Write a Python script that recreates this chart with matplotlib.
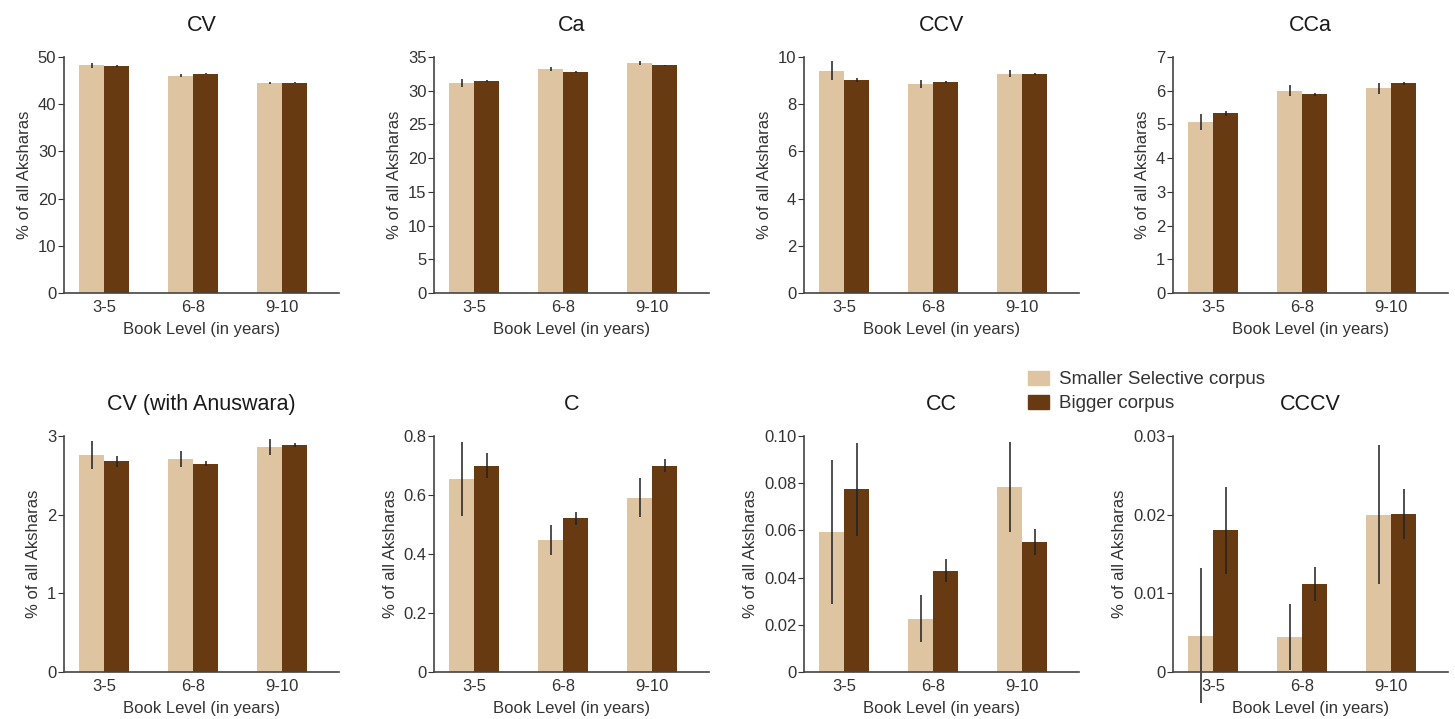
import numpy as np
import matplotlib.pyplot as plt
from matplotlib.patches import Patch

plt.rcParams['font.family'] = ['Liberation Sans', 'DejaVu Sans']

levels = ['3-5', '6-8', '9-10']
panels = ['CV', 'Ca', 'CCV', 'CCa', 'CV (with Anuswara)', 'C', 'CC', 'CCCV']

# mean % of all aksharas per book level (smaller selective / bigger corpus)
small_mean = {
    'CV': [48.2, 46.0, 44.5],
    'Ca': [31.1, 33.2, 34.05],
    'CCV': [9.42, 8.86, 9.29],
    'CCa': [5.07, 6.0, 6.07],
    'CV (with Anuswara)': [2.76, 2.71, 2.86],
    'C': [0.655, 0.448, 0.59],
    'CC': [0.0593, 0.0226, 0.0785],
    'CCCV': [0.0046, 0.0045, 0.0200],
}
big_mean = {
    'CV': [48.0, 46.5, 44.5],
    'Ca': [31.4, 32.8, 33.75],
    'CCV': [9.03, 8.94, 9.29],
    'CCa': [5.33, 5.89, 6.22],
    'CV (with Anuswara)': [2.68, 2.65, 2.885],
    'C': [0.70, 0.522, 0.70],
    'CC': [0.0774, 0.043, 0.0549],
    'CCCV': [0.018, 0.0112, 0.0201],
}
small_err = {
    'CV': [0.6, 0.3, 0.3],
    'Ca': [0.6, 0.3, 0.3],
    'CCV': [0.39, 0.17, 0.15],
    'CCa': [0.25, 0.17, 0.17],
    'CV (with Anuswara)': [0.18, 0.1, 0.1],
    'C': [0.126, 0.05, 0.066],
    'CC': [0.0305, 0.0099, 0.0191],
    'CCCV': [0.0086, 0.0042, 0.0088],
}
big_err = {
    'CV': [0.2, 0.1, 0.1],
    'Ca': [0.15, 0.1, 0.1],
    'CCV': [0.1, 0.05, 0.05],
    'CCa': [0.07, 0.05, 0.05],
    'CV (with Anuswara)': [0.07, 0.03, 0.03],
    'C': [0.042, 0.022, 0.022],
    'CC': [0.0198, 0.0049, 0.0055],
    'CCCV': [0.0055, 0.0022, 0.0032],
}
y_ticks = {
    'CV': [0, 10, 20, 30, 40, 50],
    'Ca': [0, 5, 10, 15, 20, 25, 30, 35],
    'CCV': [0, 2, 4, 6, 8, 10],
    'CCa': [0, 1, 2, 3, 4, 5, 6, 7],
    'CV (with Anuswara)': [0, 1, 2, 3],
    'C': [0, 0.2, 0.4, 0.6, 0.8],
    'CC': [0, 0.02, 0.04, 0.06, 0.08, 0.10],
    'CCCV': [0, 0.01, 0.02, 0.03],
}
tick_fmt = {'CV': '%d', 'Ca': '%d', 'CCV': '%d', 'CCa': '%d',
            'CV (with Anuswara)': '%d', 'C': '%.1f', 'CC': '%.2f', 'CCCV': '%.2f'}

light = '#dfc4a1'
dark = '#673a12'
txt = '#333333'

W, H = 1455, 719
fig = plt.figure(figsize=(W / 100, H / 100), dpi=100)

lefts = [64, 434, 804, 1173]
tops = [57, 436]
aw, ah = 275, 236
x = np.arange(3)
bw = 0.28

for i, name in enumerate(panels):
    r, c = divmod(i, 4)
    ax = fig.add_axes([lefts[c] / W, (H - tops[r] - ah) / H, aw / W, ah / H])
    ax.bar(x - bw / 2, small_mean[name], bw, color=light)
    ax.bar(x + bw / 2, big_mean[name], bw, color=dark)
    ax.errorbar(x - bw / 2, small_mean[name], yerr=small_err[name], fmt='none',
                ecolor='#222222', elinewidth=1.4, alpha=0.8, clip_on=False)
    ax.errorbar(x + bw / 2, big_mean[name], yerr=big_err[name], fmt='none',
                ecolor='#222222', elinewidth=1.4, alpha=0.8, clip_on=False)
    ax.set_xlim(-0.45, 2.64)
    yt = y_ticks[name]
    ax.set_ylim(0, yt[-1])
    ax.set_yticks(yt)
    ax.set_yticklabels(['0' if v == 0 else tick_fmt[name] % v for v in yt])
    ax.set_xticks(x)
    ax.set_xticklabels(levels)
    ax.tick_params(axis='x', length=0, pad=5, labelsize=12, colors=txt)
    ax.tick_params(axis='y', length=4, width=0.8, pad=1.5, labelsize=12, colors=txt)
    for s in ['top', 'right']:
        ax.spines[s].set_visible(False)
    for s in ['left', 'bottom']:
        ax.spines[s].set_color('#444444')
        ax.spines[s].set_linewidth(1.2)
    ax.set_title(name, fontsize=15.5, color='#1a1a1a', pad=19)
    ax.set_xlabel('Book Level (in years)', fontsize=12, color=txt, labelpad=5)
    ax.set_ylabel('% of all Aksharas', fontsize=12, color=txt, labelpad=4)

handles = [Patch(color=light, label='Smaller Selective corpus'),
           Patch(color=dark, label='Bigger corpus')]
fig.legend(handles=handles, loc='upper left', bbox_to_anchor=(1011 / W, 1 - 354 / H),
           frameon=False, fontsize=13.5, handlelength=1.1, handleheight=0.75,
           handletextpad=0.55, labelspacing=0.35, labelcolor=txt)

fig.savefig('out.png', dpi=100)
